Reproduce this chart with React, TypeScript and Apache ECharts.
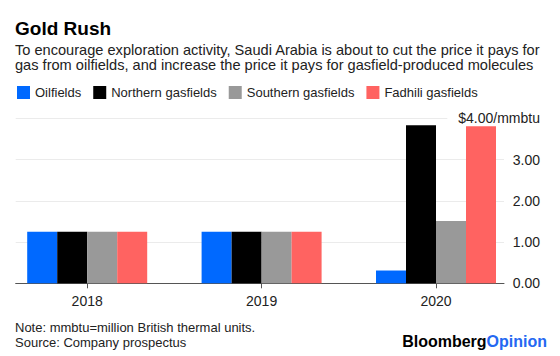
import React, { useEffect, useRef } from "react";
import * as echarts from "echarts";

const categories = ["2018", "2019", "2020"];
const seriesNames = ["Oilfields", "Northern gasfields", "Southern gasfields", "Fadhili gasfields"];
const oilfields = [1.25, 1.25, 0.31];
const northern = [1.25, 1.25, 3.83];
const southern = [1.25, 1.25, 1.51];
const fadhili = [1.25, 1.25, 3.81];
const colors = ["#0069ff", "#000000", "#999999", "#ff6361"];
const yTicks = [0, 1, 2, 3, 4];

const FONT = "'Liberation Sans', Arial, Helvetica, sans-serif";

export default function App() {
  const ref = useRef<HTMLDivElement>(null);
  useEffect(() => {
    if (!ref.current) return;
    const chart = echarts.init(ref.current, undefined, { renderer: "svg" });
    const values = [oilfields, northern, southern, fadhili];
    const option: any = {
      animation: false,
      textStyle: { fontFamily: FONT },
      legend: {
        data: seriesNames,
        left: 17,
        top: 86,
        padding: 0,
        icon: "rect",
        itemWidth: 13,
        itemHeight: 13,
        itemGap: 12,
        textStyle: { fontFamily: FONT, fontSize: 13, color: "#222" },
      },
      grid: [
        { left: 15.7, right: 56, top: 118.3, bottom: 72.7 },
        { left: -1.8, right: 36.8, top: 118.3, bottom: 72.7 },
      ],
      xAxis: [
        {
          gridIndex: 0,
          type: "category",
          data: [""],
          axisLine: { show: true, lineStyle: { color: "#555", width: 1 } },
          axisTick: { show: false },
          axisLabel: { show: false },
          splitLine: { show: false },
        },
        {
          gridIndex: 1,
          type: "category",
          data: categories,
          axisLine: { show: false },
          axisTick: { show: true, alignWithLabel: true, length: 5, lineStyle: { color: "#555" } },
          axisLabel: { margin: 11, fontSize: 14, color: "#222", fontFamily: FONT },
          splitLine: { show: false },
        },
      ],
      yAxis: [
        {
          gridIndex: 0,
          type: "value",
          position: "right",
          min: yTicks[0],
          max: yTicks[yTicks.length - 1],
          interval: 1,
          axisLine: { show: false },
          axisTick: { show: false },
          splitLine: { show: true, lineStyle: { color: "#ebebeb", width: 1 } },
          axisLabel: {
            align: "right",
            margin: 36,
            fontSize: 14,
            color: "#222",
            fontFamily: FONT,
            formatter: (v: number) =>
              v === yTicks[yTicks.length - 1] ? "{top|$" + v.toFixed(2) + "/mmbtu}" : v.toFixed(2),
            rich: {
              top: {
                fontSize: 14,
                color: "#222",
                fontFamily: FONT,
                backgroundColor: "#ffffff",
                padding: [3, 0, 3, 11],
              },
            },
          },
        },
        {
          gridIndex: 1,
          type: "value",
          min: yTicks[0],
          max: yTicks[yTicks.length - 1],
          show: false,
          splitLine: { show: false },
        },
      ],
      series: seriesNames.map((name, i) => ({
        name,
        type: "bar",
        xAxisIndex: 1,
        yAxisIndex: 1,
        data: values[i],
        barWidth: 30,
        barGap: "0%",
        itemStyle: { color: colors[i] },
        z: 5,
      })),
      graphic: [
        {
          type: "text",
          left: 15,
          top: 19,
          style: { text: "Gold Rush", font: `bold 19px ${FONT}`, fill: "#000" },
        },
        {
          type: "text",
          left: 15,
          top: 42,
          style: {
            text:
              "To encourage exploration activity, Saudi Arabia is about to cut the price it pays for\ngas from oilfields, and increase the price it pays for gasfield-produced molecules",
            font: `14.6px ${FONT}`,
            lineHeight: 15.5,
            fill: "#222",
          },
        },
        {
          type: "text",
          left: 15,
          top: 320,
          style: {
            text: "Note: mmbtu=million British thermal units.\nSource: Company prospectus",
            font: `13px ${FONT}`,
            lineHeight: 15,
            fill: "#222",
          },
        },
        {
          type: "text",
          right: 13,
          top: 333,
          style: {
            text: "{a|Bloomberg}{b|Opinion}",
            rich: {
              a: { font: `bold 16px ${FONT}`, fill: "#000", color: "#000" },
              b: { font: `bold 16px ${FONT}`, fill: "#2468f2", color: "#2468f2" },
            },
          },
        },
      ],
    };
    chart.setOption(option);
    return () => chart.dispose();
  }, []);
  return (
    <div
      ref={ref}
      style={{ position: "fixed", left: 0, top: 0, width: 560, height: 356, background: "#fff" }}
    />
  );
}
